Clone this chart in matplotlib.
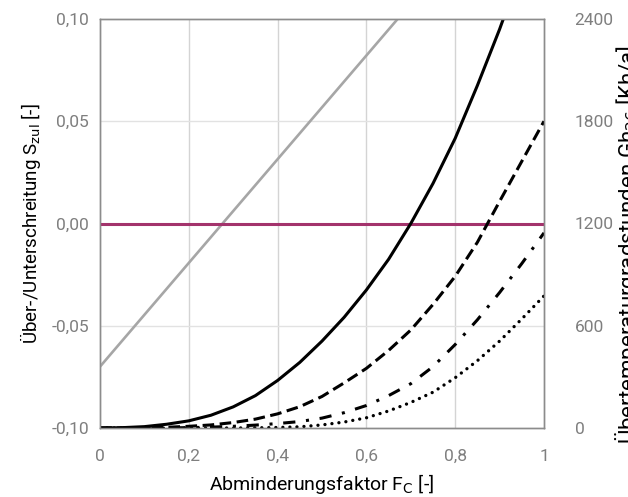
import matplotlib
matplotlib.use("Agg")
import matplotlib.pyplot as plt

plt.rcParams['font.family'] = ['Roboto', 'DejaVu Sans']

# x values (Abminderungsfaktor F_C)
fc = [0.0, 0.05, 0.1, 0.15, 0.2, 0.25, 0.3, 0.35, 0.4, 0.45, 0.5,
      0.55, 0.6, 0.65, 0.7, 0.75, 0.8, 0.85, 0.9, 0.95, 1.0]

# Über-/Unterschreitung S_zul (left axis)
s_x = [0.0, 1.0]
s_val = [-0.07, 0.1836]
limit_x = [0.0, 1.0]
limit_val = [0.0, 0.0]

# Übertemperaturgradstunden (right axis)
gh_solid = [0, 2, 8, 22, 42, 75, 124, 190, 279, 385, 510,
            650, 810, 990, 1200, 1435, 1700, 2010, 2340, 2700, 3080]
gh_dashed = [0, 0, 1, 4, 10, 18, 32, 52, 83, 125, 185,
             265, 350, 455, 575, 725, 890, 1090, 1330, 1565, 1800]
gh_dashdot = [0, 0, 0, 1, 2, 5, 10, 17, 26, 38, 58,
              90, 132, 190, 260, 360, 490, 635, 795, 965, 1145]
gh_dotted = [0, 0, 0, 0, 0, 0, 0, 1, 3, 7, 18,
             35, 60, 100, 150, 210, 295, 395, 510, 640, 775]

xticks = [0, 0.2, 0.4, 0.6, 0.8, 1.0]
xticklabels = ['0', '0,2', '0,4', '0,6', '0,8', '1']
yticks = [-0.10, -0.05, 0.0, 0.05, 0.10]
yticklabels = ['-0,10', '-0,05', '0,00', '0,05', '0,10']
y2ticks = [0, 600, 1200, 1800, 2400]
y2ticklabels = ['0', '600', '1200', '1800', '2400']

fig = plt.figure(figsize=(6.28, 4.97), dpi=100)
ax = fig.add_axes([100/628, 69/497, 444/628, 409/497])
ax2 = ax.twinx()

tick_color = '#7f7f7f'
spine_color = '#8c8c8c'

ax.set_xlim(0, 1)
ax.set_ylim(-0.10, 0.10)
ax2.set_ylim(0, 2400)

for x in xticks[1:-1]:
    ax.axvline(x, color='#d4d4d4', lw=1.0, zorder=0)
for y in yticks[1:-1]:
    ax.axhline(y, color='#e2e2e2', lw=1.0, zorder=0)

ax.plot(s_x, s_val, color='#a6a6a6', lw=1.9, zorder=3)
ax.plot(limit_x, limit_val, color='#a3336c', lw=2.2, zorder=3)

ax2.plot(fc, gh_solid, color='black', lw=2.2, solid_capstyle='butt')
ax2.plot(fc, gh_dashed, color='black', lw=2.2, dashes=(3.8, 1.8))
ax2.plot(fc, gh_dashdot, color='black', lw=2.2, dashes=(4.0, 3.5, 1.0, 3.5))
ax2.plot(fc, gh_dotted, color='black', lw=2.4, dashes=(0.01, 2.1),
         dash_capstyle='round')

ax.set_xticks(xticks)
ax.set_xticklabels(xticklabels)
ax.set_yticks(yticks)
ax.set_yticklabels(yticklabels)
ax2.set_yticks(y2ticks)
ax2.set_yticklabels(y2ticklabels)

for a in (ax, ax2):
    a.tick_params(length=0, labelsize=12.5, labelcolor=tick_color)
    for sp in a.spines.values():
        sp.set_color(spine_color)
        sp.set_linewidth(1.0)
ax.tick_params(axis='x', pad=15)
ax.tick_params(axis='y', pad=8)
ax2.tick_params(axis='y', pad=22)

ax.set_xlabel('Abminderungsfaktor F$_\\mathrm{C}$ [-]', fontsize=14, color='black', labelpad=6)
ax.set_ylabel('Über-/Unterschreitung S$_\\mathrm{zul}$ [-]', fontsize=13.5, color='black', labelpad=6)

fig.text(613/628, (497-45)/497, 'Übertemperaturgradstunden Gh$_\\mathrm{26}$ [Kh/a]',
         rotation=90, ha='left', va='top', fontsize=16, color='black')

fig.savefig('out.png', dpi=100)
